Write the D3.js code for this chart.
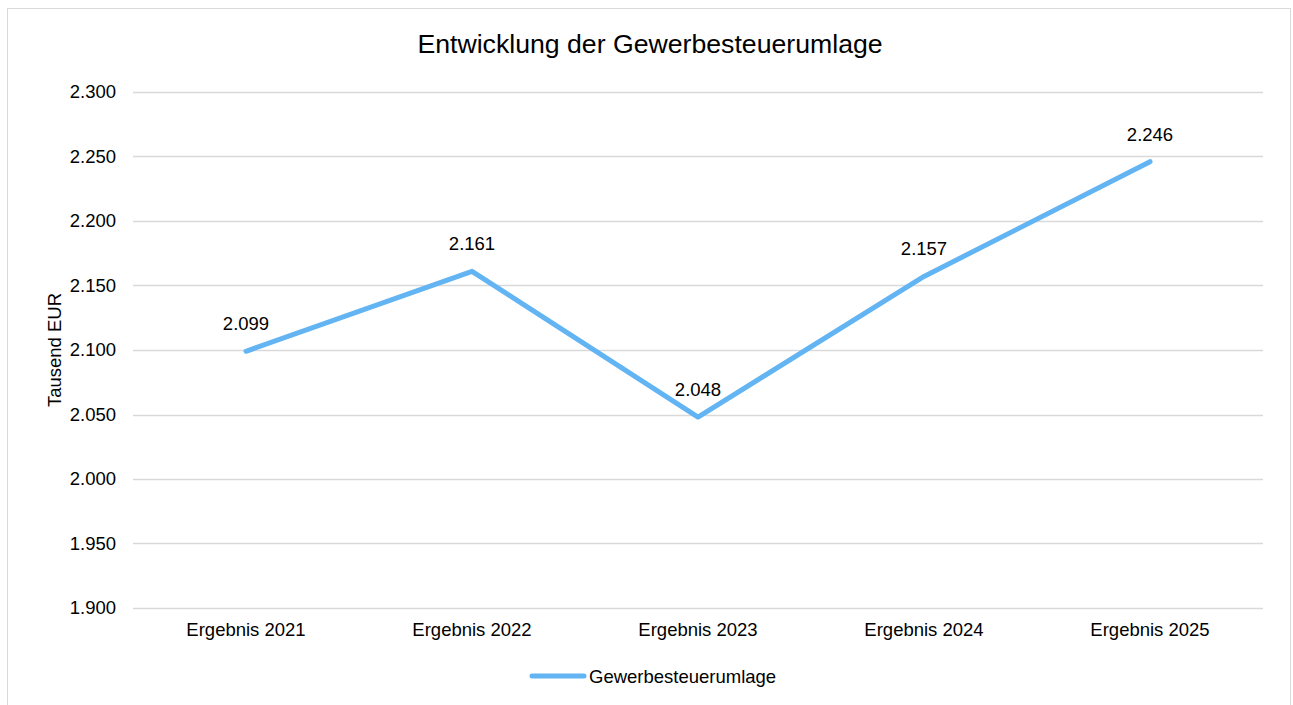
<!DOCTYPE html>
<html>
<head>
<meta charset="utf-8">
<script src="https://cdn.jsdelivr.net/npm/d3@7"></script>
<style>
  body { margin: 0; background: #fff; }
  svg { font-family: "Liberation Sans", Arial, sans-serif; }
</style>
</head>
<body>
<script>
const categories = ["Ergebnis 2021", "Ergebnis 2022", "Ergebnis 2023", "Ergebnis 2024", "Ergebnis 2025"];
const values = [2.099, 2.161, 2.048, 2.157, 2.246];
const yTicks = [1.9, 1.95, 2.0, 2.05, 2.1, 2.15, 2.2, 2.25, 2.3];
const seriesName = "Gewerbesteuerumlage";
const chartTitle = "Entwicklung der Gewerbesteuerumlage";
const yTitle = "Tausend EUR";

const WIDTH = 1293, HEIGHT = 705;
const LINE_COLOR = "#63b4f2";
const FS = 18.5;
const plot = {left: 133, right: 1263, top: 92, bottom: 608};

// values shown German style, e.g. 2.099
const label = d => d.toFixed(3);

const svg = d3.select("body").append("svg")
  .attr("width", WIDTH)
  .attr("height", HEIGHT);

// chart border
svg.append("rect")
  .attr("x", 7.5).attr("y", 8.5)
  .attr("width", 1283).attr("height", 710)
  .attr("fill", "white")
  .attr("stroke", "#d9d9d9");

const x = d3.scaleBand().domain(categories).range([plot.left, plot.right]);
const y = d3.scaleLinear().domain([1.9, 2.3]).range([plot.bottom, plot.top]);

// gridlines
svg.append("g")
  .selectAll("line")
  .data(yTicks)
  .join("line")
  .attr("x1", plot.left).attr("x2", plot.right)
  .attr("y1", d => Math.round(y(d)) + 0.5)
  .attr("y2", d => Math.round(y(d)) + 0.5)
  .attr("stroke", "#d9d9d9")
  .attr("stroke-width", 1.3);

// y axis labels
const yAxis = svg.append("g")
  .attr("transform", `translate(${plot.left},0)`)
  .call(d3.axisLeft(y).tickValues(yTicks).tickSize(0).tickPadding(17).tickFormat(label));
yAxis.select(".domain").remove();
yAxis.selectAll("text").attr("font-size", FS).attr("fill", "#000")
  .attr("font-family", "Liberation Sans, Arial, sans-serif");

// x axis labels
const xAxis = svg.append("g")
  .attr("transform", `translate(0,${plot.bottom})`)
  .call(d3.axisBottom(x).tickSize(0).tickPadding(15));
xAxis.select(".domain").remove();
xAxis.selectAll("text").attr("font-size", FS).attr("fill", "#000")
  .attr("font-family", "Liberation Sans, Arial, sans-serif");

// title
svg.append("text")
  .attr("x", 650).attr("y", 53)
  .attr("text-anchor", "middle")
  .attr("font-size", 26.67)
  .text(chartTitle);

// y axis title
svg.append("text")
  .attr("transform", `translate(61,${(plot.top + plot.bottom) / 2}) rotate(-90)`)
  .attr("text-anchor", "middle")
  .attr("font-size", FS)
  .text(yTitle);

// the line
const line = d3.line()
  .x((d, i) => x(categories[i]) + x.bandwidth() / 2)
  .y(d => y(d));

svg.append("path")
  .datum(values)
  .attr("d", line)
  .attr("fill", "none")
  .attr("stroke", LINE_COLOR)
  .attr("stroke-width", 5)
  .attr("stroke-linecap", "round")
  .attr("stroke-linejoin", "round");

// data labels
svg.append("g")
  .selectAll("text")
  .data(values)
  .join("text")
  .attr("x", (d, i) => x(categories[i]) + x.bandwidth() / 2)
  .attr("y", d => y(d) - 21)
  .attr("text-anchor", "middle")
  .attr("font-size", FS)
  .text(label);

// legend
const legend = svg.append("g").attr("transform", "translate(532,676)");
legend.append("line")
  .attr("x1", 0).attr("x2", 52)
  .attr("stroke", LINE_COLOR)
  .attr("stroke-width", 5)
  .attr("stroke-linecap", "round");
legend.append("text")
  .attr("x", 57).attr("y", 6.5)
  .attr("font-size", FS)
  .text(seriesName);
</script>
</body>
</html>
